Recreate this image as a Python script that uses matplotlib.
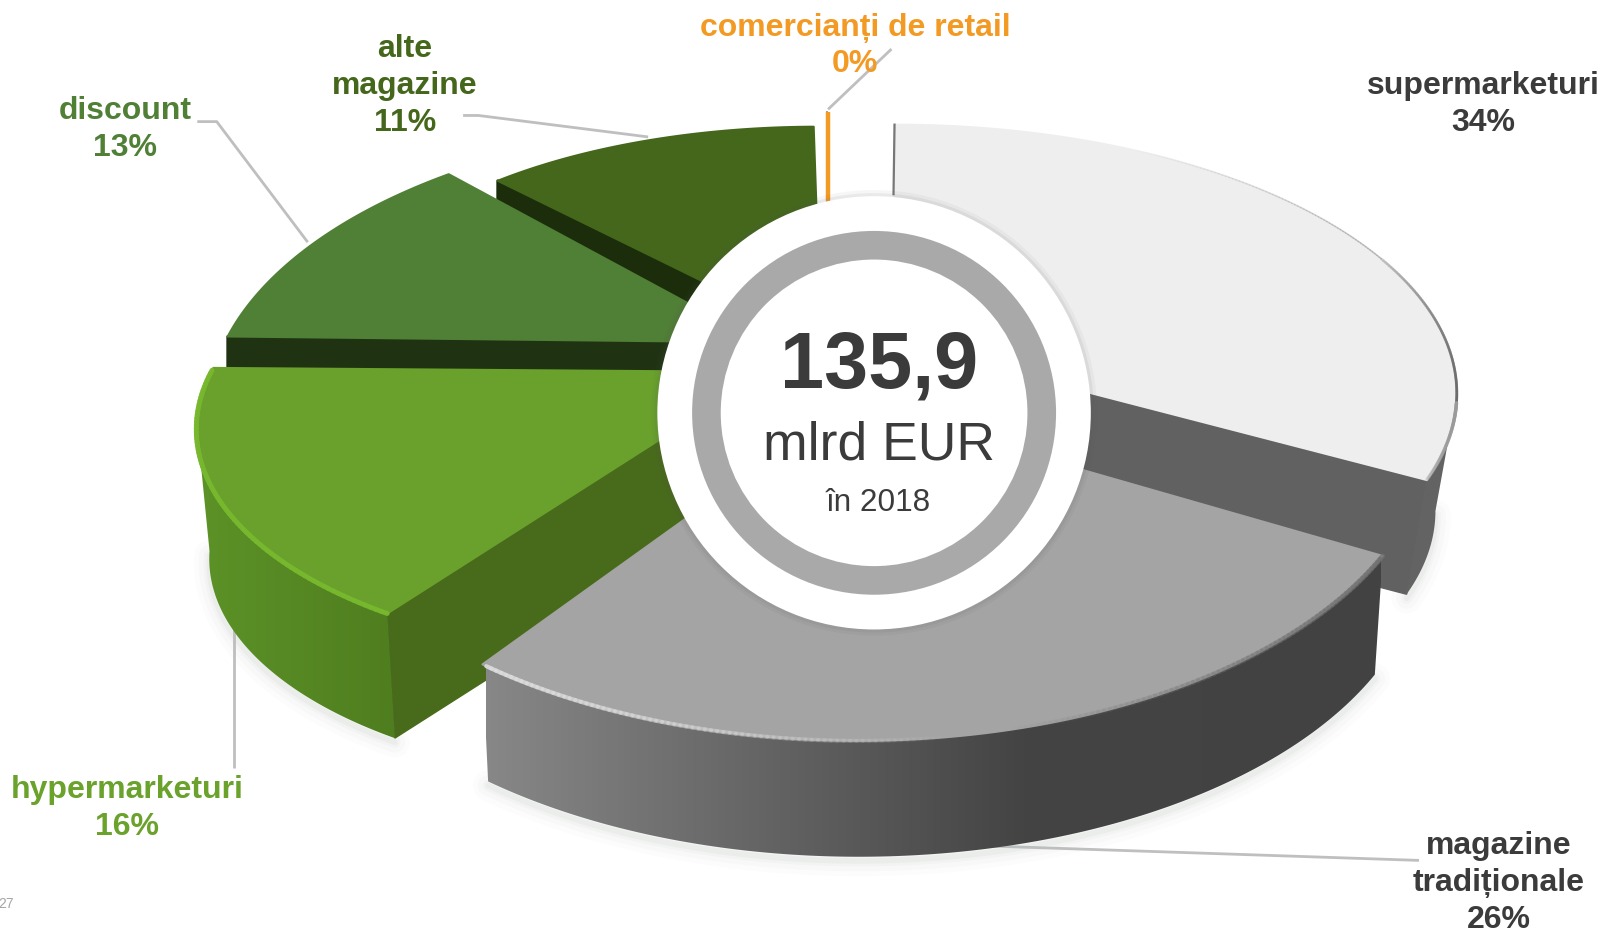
import numpy as np
import matplotlib
matplotlib.use("Agg")
import matplotlib.pyplot as plt
from matplotlib.patches import Polygon, Circle
from matplotlib.collections import LineCollection
from matplotlib.colors import to_rgb, LinearSegmentedColormap

plt.rcParams['font.family'] = ['Liberation Sans', 'DejaVu Sans']

# data
categories = ['supermarketuri', 'magazine\ntradiționale', 'hypermarketuri',
              'discount', 'alte\nmagazine', 'comercianți de retail']
shares = [34, 26, 16, 13, 11, 0]
total_value = '135,9'
total_unit = 'mlrd EUR'
total_year = 'în 2018'
page_number = '27'

# look of every slice, same order as categories
top_colors = ['#eeeeee', '#a4a4a4', '#69a12c', '#507f36', '#44671b', '#f39a24']
cut_colors = ['#616161', '#444444', '#486b1b', '#1f3312', '#1b2d0b', '#666666']
label_colors = ['#3b3b3b', '#3b3b3b', '#6aa22c', '#507f36', '#44671b', '#f39a24']
# ellipse cx, cy, rx, ry, apex x, apex y, depth, bottom scale, angle trim start/end
geometry = [
    (875, 385, 550, 263, 875, 335, 115, 0.962, 0.0, -13.6),
    (840, 420, 561, 305, 829, 394, 118, 0.985, -8.4, 5.0),
    (645, 420, 453, 223, 749, 364, 127, 0.972, 0.0, 12.0),
    (760, 405, 557, 287, 744, 335, 35, 1.0, 11.7, 4.4),
    (800, 330, 468, 206, 803, 332, 40, 1.0, -2.4, -0.5),
    (810, 330, 300, 220, 810, 330, 0, 1.0, 0.0, 0.0),
]
label_pos = [(1451, 102), (1466, 864), (124, 791), (122.5, 126.5), (396, 84), (836.5, 45)]
leaders = [
    None,
    [(970, 828), (1388, 842)],
    [(229, 752), (229, 603)],
    [(193, 119), (212, 119), (301, 237)],
    [(453, 113), (468, 113), (634, 134)],
    [(872, 48), (810, 107)],
]
# side gradients: colour stops along x
side_stops = {
    0: [(875, '#616161'), (1430, '#646464')],
    1: [(475, '#878787'), (700, '#6a6a6a'), (1000, '#444444'), (1350, '#424242')],
    2: [(195, '#5c9227'), (390, '#4f7d1f')],
}


def arc(g, t0, t1, n=120, bottom=False):
    cx, cy, rx, ry, ax_, ay, depth, k = g[:8]
    t = np.radians(np.linspace(t0, t1, n))
    if bottom:
        return np.column_stack([cx + k * rx * np.sin(t), cy + depth - k * ry * np.cos(t)])
    return np.column_stack([cx + rx * np.sin(t), cy - ry * np.cos(t)])


def fade_arc(ax, g, t0, t1, color, lw, a0, a1, zorder):
    pts = arc(g, t0, t1, 80)
    segs = np.stack([pts[:-1], pts[1:]], axis=1)
    rgb = to_rgb(color)
    cols = [(*rgb, a) for a in np.linspace(a0, a1, len(segs))]
    ax.add_collection(LineCollection(segs, colors=cols, linewidths=lw, capstyle='round', zorder=zorder))


def gradient_poly(ax, pts, stops, zorder):
    xmin, xmax = stops[0][0], stops[-1][0]
    cmap = LinearSegmentedColormap.from_list(
        'side', [((x - xmin) / (xmax - xmin), c) for x, c in stops])
    img = ax.imshow(np.linspace(0, 1, 256).reshape(1, -1), cmap=cmap, aspect='auto',
                    extent=(xmin, xmax, 915, 0), zorder=zorder, interpolation='bilinear')
    patch = Polygon(pts, closed=True, transform=ax.transData, facecolor='none', edgecolor='none')
    ax.add_patch(patch)
    img.set_clip_path(patch)


fig = plt.figure(figsize=(16.03, 9.35), dpi=100)
ax = fig.add_axes([0, 0, 1, 1])

cum = np.concatenate([[0], np.cumsum(shares)]) * 3.6
angles = []
for i, g in enumerate(geometry):
    angles.append((cum[i] + g[8], cum[i + 1] + g[9]))

# leader lines go under the slices
for line in leaders:
    if line is not None:
        xs, ys = zip(*line)
        ax.plot(xs, ys, color='#bfbfbf', lw=2, zorder=1, solid_capstyle='butt')

# soft shadow round the lower edges
for i, rng in [(0, (90, angles[0][1])), (1, angles[1]), (2, (angles[2][0], 272))]:
    pts = arc(geometry[i], rng[0], rng[1], bottom=True)
    for lw, al in [(22, 0.04), (15, 0.06), (8, 0.09), (4, 0.12)]:
        ax.plot(pts[:, 0], pts[:, 1] + 4, color='#b9c2bf', lw=lw, alpha=al, zorder=2,
                solid_capstyle='round')

# back to front
order = [0, 4, 3, 2, 1]
z = 5
for i in order:
    g = geometry[i]
    t0, t1 = angles[i]
    apex = np.array(g[4:6])
    depth = g[6]
    if i == 0:
        # face that shows the cut at the end of the slice
        p_top = arc(g, t1, t1, 1)[0]
        p_bot = arc(g, t1, t1, 1, True)[0]
        ax.add_patch(Polygon([apex, p_top, p_bot, apex + [0, depth]], closed=True,
                             fc=cut_colors[i], ec=cut_colors[i], lw=1, zorder=z))
    elif i == 2:
        p_top = arc(g, t0, t0, 1)[0]
        p_bot = arc(g, t0, t0, 1, True)[0]
        ax.add_patch(Polygon([apex, p_top, p_bot, apex + [0, depth]], closed=True,
                             fc=cut_colors[i], ec=cut_colors[i], lw=1, zorder=z))
    elif i in (3, 4):
        p_top = arc(g, t0, t0, 1)[0]
        p_bot = arc(g, t0, t0, 1, True)[0]
        ax.add_patch(Polygon([apex, p_top, p_bot, apex + [0, depth]], closed=True,
                             fc=cut_colors[i], ec=cut_colors[i], lw=2, joinstyle='round', zorder=z))
    z += 1
    # outer wall
    if i in side_stops:
        s0, s1 = max(t0, 90), min(t1, 272)
        wall = np.vstack([arc(g, s0, s1), arc(g, s1, s0, bottom=True)])
        gradient_poly(ax, wall, side_stops[i], z)
    z += 1
    top = np.vstack([apex, arc(g, t0, t1)])
    ax.add_patch(Polygon(top, closed=True, fc=top_colors[i], ec=top_colors[i], lw=1.5,
                         joinstyle='round', zorder=z))
    z += 1
    if i == 0:
        fade_arc(ax, g, 25, 60, '#9a9a9a', 1.0, 0.0, 0.6, z)
        fade_arc(ax, g, 60, 92, '#6a6a6a', 2.0, 0.2, 0.9, z)
        fade_arc(ax, g, 92, t1, '#9a9a9a', 2.5, 0.9, 0.2, z)
        ax.plot([g[0], g[0] - 1], [g[1] - g[3], 190], color='#777777', lw=1.6, zorder=z)
    if i == 1:
        fade_arc(ax, g, t1 - 0.5, 170, '#dcdcdc', 3.0, 0.9, 0.0, z)
        fade_arc(ax, g, 165, t0, '#6f6f6f', 3.5, 0.0, 0.7, z)
    if i == 2:
        fade_arc(ax, g, t0, 285, '#78b82e', 3.5, 0.95, 0.95, z)
    z += 1

# the 0 % slice is only a thin stroke
pts = arc(geometry[5], angles[5][0], angles[5][1], 2)
ax.plot([geometry[5][4] - 1.5, pts[0, 0] - 1.5], [197, pts[0, 1]], color='#777777', lw=1.2, zorder=3)
ax.plot([geometry[5][4], pts[0, 0]], [197, pts[0, 1]], color=top_colors[5], lw=3.2, zorder=3,
        solid_capstyle='butt')

# centre badge
cc = (855, 404)
for r, al in [(218, 0.05), (215, 0.08)]:
    ax.add_patch(Circle(cc, r, fc='#555555', ec='none', alpha=al, zorder=40))
ax.add_patch(Circle(cc, 212, fc='white', ec='none', zorder=41))
ax.add_patch(Circle(cc, 178, fc='#a9a9a9', ec='none', zorder=42))
ax.add_patch(Circle(cc, 150, fc='white', ec='none', zorder=43))

ax.text(860, 359, total_value, ha='center', va='center', fontsize=57, fontweight='bold',
        color='#3b3b3b', zorder=50)
ax.text(860, 436, total_unit, ha='center', va='center', fontsize=38.5, color='#3b3b3b', zorder=50)
ax.text(859, 492, total_year, ha='center', va='center', fontsize=22.7, color='#3b3b3b', zorder=50)

for name, share, pos, col in zip(categories, shares, label_pos, label_colors):
    ax.text(pos[0], pos[1], f'{name}\n{share}%', ha='center', va='center', fontsize=23,
            fontweight='bold', color=col, linespacing=1.29, zorder=60)

ax.text(6, 885, page_number, ha='center', va='center', fontsize=10, color='#a6a6a6')

ax.set_xlim(0, 1568)
ax.set_ylim(915, 0)
ax.axis('off')
fig.savefig('out.png', dpi=100, facecolor='white')
